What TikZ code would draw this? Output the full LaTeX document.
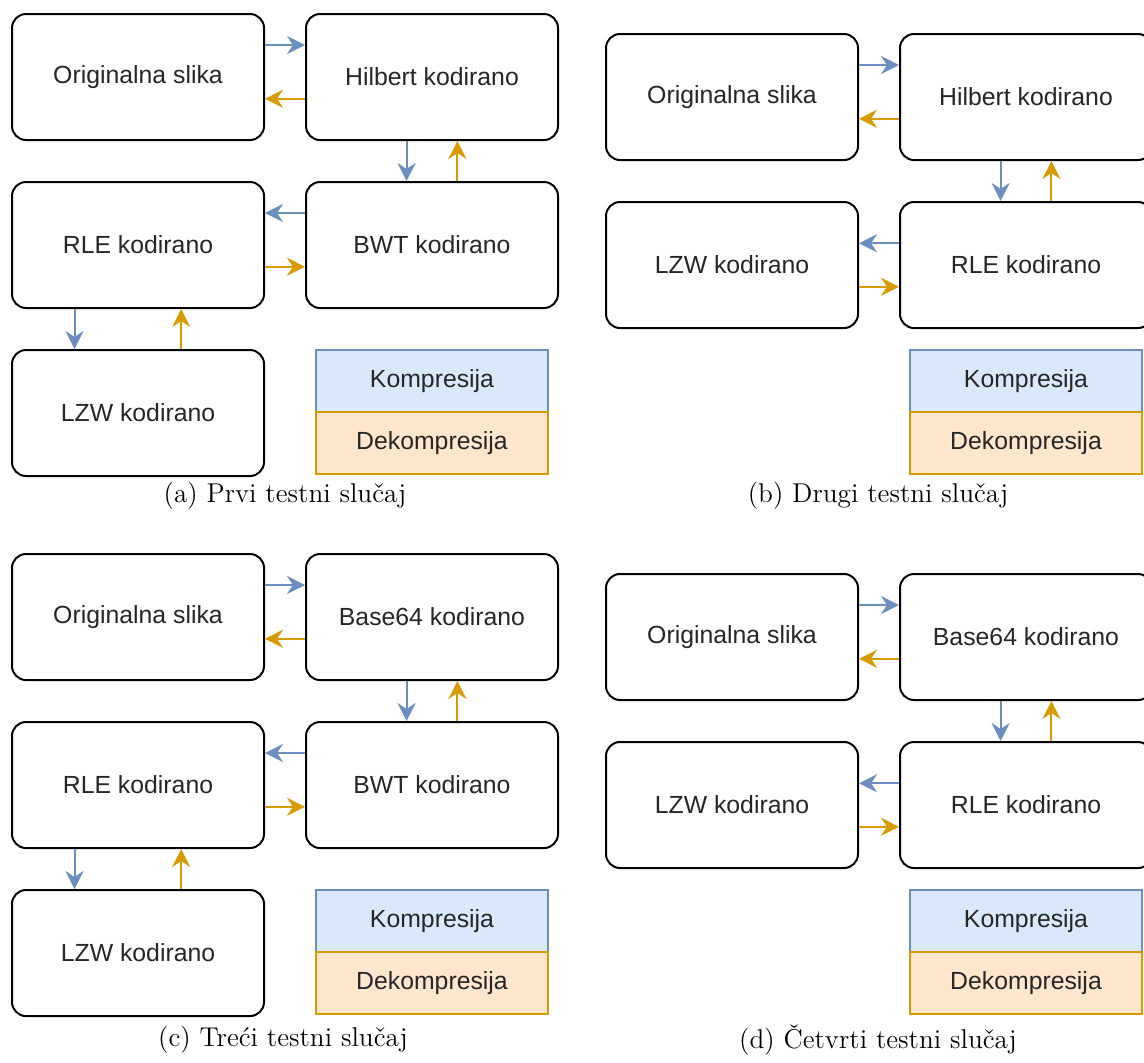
\documentclass[tikz,border=0pt]{standalone}
\usepackage{fontspec}
\newfontfamily\arialf{Liberation Sans}
\usetikzlibrary{calc,arrows.meta}
\definecolor{cblue}{HTML}{6C8EBF}
\definecolor{corange}{HTML}{D79B00}
\definecolor{fblue}{HTML}{DAE8FC}
\definecolor{forange}{HTML}{FFE6CC}
\begin{document}
\begin{tikzpicture}[x=0.5pt,y=-0.5pt,
  stagebox/.style={draw=black, line width=1pt, rounded corners=7pt, fill=white,
    minimum width=126pt, minimum height=63pt, inner sep=0pt,
    font=\arialf\fontsize{12.4}{15}\selectfont, text=black!85},
  legk/.style={draw=cblue, fill=fblue, line width=0.9pt, minimum width=116pt, minimum height=31pt,
    inner sep=0pt, font=\arialf\fontsize{12.4}{15}\selectfont, text=black!85},
  legd/.style={draw=corange, fill=forange, line width=0.9pt, minimum width=116pt, minimum height=31pt,
    inner sep=0pt, font=\arialf\fontsize{12.4}{15}\selectfont, text=black!85},
  capt/.style={font=\fontsize{13.6}{16}\selectfont, inner sep=0pt},
  comp/.style={draw=cblue, line width=1pt, -{Stealth[length=9pt,width=9pt,inset=3pt]}},
  dec/.style={draw=corange, line width=1pt, -{Stealth[length=9pt,width=9pt,inset=3pt]}}
]
\clip (0,0) rectangle (1144,1062);
\fill[white] (0,0) rectangle (1144,1062);

% ---------- panel (a) ----------
\node[stagebox] (aO) at (138,77) {Originalna slika};
\node[stagebox] (aH) at (432,77) {Hilbert kodirano};
\node[stagebox] (aR) at (138,245) {RLE kodirano};
\node[stagebox] (aB) at (432,245) {BWT kodirano};
\node[stagebox] (aL) at (138,413) {LZW kodirano};
\node[legk] (aK) at (432,381) {Kompresija};
\node[legd] (aD) at (432,443) {Dekompresija};
\node[capt] (aC) at (285,496) {(a) Prvi testni slučaj};
\draw[comp] ($(aO.north east)!0.25!(aO.south east)$) -- ($(aH.north west)!0.25!(aH.south west)$);
\draw[dec] ($(aH.north west)!0.67!(aH.south west)$) -- ($(aO.north east)!0.67!(aO.south east)$);
\draw[comp] ($(aH.south west)!0.4!(aH.south east)$) -- ($(aB.north west)!0.4!(aB.north east)$);
\draw[dec] ($(aB.north west)!0.6!(aB.north east)$) -- ($(aH.south west)!0.6!(aH.south east)$);
\draw[comp] ($(aB.north west)!0.25!(aB.south west)$) -- ($(aR.north east)!0.25!(aR.south east)$);
\draw[dec] ($(aR.north east)!0.67!(aR.south east)$) -- ($(aB.north west)!0.67!(aB.south west)$);
\draw[comp] ($(aR.south west)!0.25!(aR.south east)$) -- ($(aL.north west)!0.25!(aL.north east)$);
\draw[dec] ($(aL.north west)!0.67!(aL.north east)$) -- ($(aR.south west)!0.67!(aR.south east)$);

% ---------- panel (b) ----------
\node[stagebox] (bO) at (732,97) {Originalna slika};
\node[stagebox] (bH) at (1026,97) {Hilbert kodirano};
\node[stagebox] (bL) at (732,265) {LZW kodirano};
\node[stagebox] (bR) at (1026,265) {RLE kodirano};
\node[legk] (bK) at (1026,381) {Kompresija};
\node[legd] (bD) at (1026,443) {Dekompresija};
\node[capt] (bC) at (878,496) {(b) Drugi testni slučaj};
\draw[comp] ($(bO.north east)!0.25!(bO.south east)$) -- ($(bH.north west)!0.25!(bH.south west)$);
\draw[dec] ($(bH.north west)!0.67!(bH.south west)$) -- ($(bO.north east)!0.67!(bO.south east)$);
\draw[comp] ($(bH.south west)!0.4!(bH.south east)$) -- ($(bR.north west)!0.4!(bR.north east)$);
\draw[dec] ($(bR.north west)!0.6!(bR.north east)$) -- ($(bH.south west)!0.6!(bH.south east)$);
\draw[comp] ($(bR.north west)!0.33!(bR.south west)$) -- ($(bL.north east)!0.33!(bL.south east)$);
\draw[dec] ($(bL.north east)!0.67!(bL.south east)$) -- ($(bR.north west)!0.67!(bR.south west)$);

% ---------- panel (c) ----------
\node[stagebox] (cO) at (138,617) {Originalna slika};
\node[stagebox] (cH) at (432,617) {Base64 kodirano};
\node[stagebox] (cR) at (138,785) {RLE kodirano};
\node[stagebox] (cB) at (432,785) {BWT kodirano};
\node[stagebox] (cL) at (138,953) {LZW kodirano};
\node[legk] (cK) at (432,921) {Kompresija};
\node[legd] (cD) at (432,983) {Dekompresija};
\node[capt] (cC) at (283,1040) {(c) Treći testni slučaj};
\draw[comp] ($(cO.north east)!0.25!(cO.south east)$) -- ($(cH.north west)!0.25!(cH.south west)$);
\draw[dec] ($(cH.north west)!0.67!(cH.south west)$) -- ($(cO.north east)!0.67!(cO.south east)$);
\draw[comp] ($(cH.south west)!0.4!(cH.south east)$) -- ($(cB.north west)!0.4!(cB.north east)$);
\draw[dec] ($(cB.north west)!0.6!(cB.north east)$) -- ($(cH.south west)!0.6!(cH.south east)$);
\draw[comp] ($(cB.north west)!0.25!(cB.south west)$) -- ($(cR.north east)!0.25!(cR.south east)$);
\draw[dec] ($(cR.north east)!0.67!(cR.south east)$) -- ($(cB.north west)!0.67!(cB.south west)$);
\draw[comp] ($(cR.south west)!0.25!(cR.south east)$) -- ($(cL.north west)!0.25!(cL.north east)$);
\draw[dec] ($(cL.north west)!0.67!(cL.north east)$) -- ($(cR.south west)!0.67!(cR.south east)$);

% ---------- panel (d) ----------
\node[stagebox] (dO) at (732,637) {Originalna slika};
\node[stagebox] (dH) at (1026,637) {Base64 kodirano};
\node[stagebox] (dL) at (732,805) {LZW kodirano};
\node[stagebox] (dR) at (1026,805) {RLE kodirano};
\node[legk] (dK) at (1026,921) {Kompresija};
\node[legd] (dD) at (1026,983) {Dekompresija};
\node[capt] (dC) at (878,1040) {(d) Četvrti testni slučaj};
\draw[comp] ($(dO.north east)!0.25!(dO.south east)$) -- ($(dH.north west)!0.25!(dH.south west)$);
\draw[dec] ($(dH.north west)!0.67!(dH.south west)$) -- ($(dO.north east)!0.67!(dO.south east)$);
\draw[comp] ($(dH.south west)!0.4!(dH.south east)$) -- ($(dR.north west)!0.4!(dR.north east)$);
\draw[dec] ($(dR.north west)!0.6!(dR.north east)$) -- ($(dH.south west)!0.6!(dH.south east)$);
\draw[comp] ($(dR.north west)!0.33!(dR.south west)$) -- ($(dL.north east)!0.33!(dL.south east)$);
\draw[dec] ($(dL.north east)!0.67!(dL.south east)$) -- ($(dR.north west)!0.67!(dR.south west)$);
\end{tikzpicture}
\end{document}
